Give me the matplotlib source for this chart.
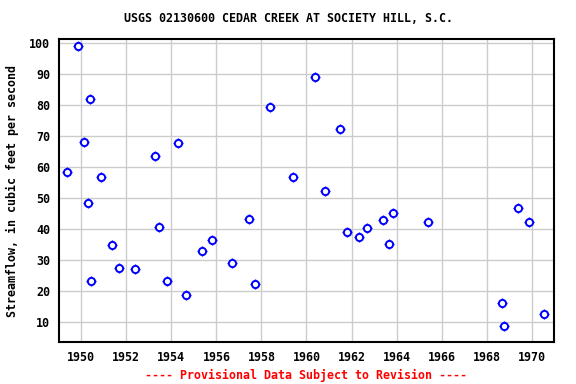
import matplotlib
matplotlib.use("Agg")
import matplotlib.pyplot as plt

# annual peak-ish streamflow values
years = [1949.38, 1949.87, 1950.13, 1950.40, 1950.31, 1950.44, 1950.89, 1951.35,
         1951.69, 1952.40, 1953.29, 1953.47, 1953.82, 1954.31, 1954.67, 1955.38,
         1955.82, 1956.71, 1957.47, 1957.71, 1958.40, 1959.39, 1960.36, 1960.84,
         1961.48, 1961.82, 1962.31, 1962.67, 1963.38, 1963.66, 1963.82, 1965.38,
         1968.68, 1968.76, 1969.38, 1969.87, 1970.53]
flow = [58.4, 99.0, 68.1, 81.9, 48.4, 23.2, 56.8, 34.8,
        27.4, 27.1, 63.5, 40.6, 23.2, 67.7, 18.7, 32.9,
        36.5, 29.0, 43.2, 22.3, 79.4, 56.8, 89.0, 52.3,
        72.3, 39.0, 37.4, 40.3, 42.9, 35.2, 45.2, 42.3,
        16.1, 8.8, 46.8, 42.3, 12.6]

x_ticks = list(range(1950, 1971, 2))
y_ticks = list(range(10, 101, 10))

title = "USGS 02130600 CEDAR CREEK AT SOCIETY HILL, S.C."
ylabel = "Streamflow, in cubic feet per second"
footer = "---- Provisional Data Subject to Revision ----"

font = {"family": "DejaVu Sans Mono", "weight": "bold", "size": 8.4}

fig = plt.figure(figsize=(5.76, 3.84), dpi=100)
ax = fig.add_axes([0.1019, 0.1086, 0.8604, 0.7891])

# crosshair ticks behind a white-filled circle
ax.plot(years, flow, linestyle="none", marker="+", markersize=7.2,
        markeredgewidth=1.0, color="blue", zorder=3)
ax.plot(years, flow, linestyle="none", marker="o", markersize=5.2,
        markeredgewidth=1.4, markeredgecolor="blue", markerfacecolor="white",
        zorder=4)

ax.set_xlim(1949.0, 1971.0)
ax.set_ylim(3.5, 101.3)
ax.set_xticks(x_ticks)
ax.set_yticks(y_ticks)
ax.grid(True, color="#cccccc", linewidth=1.0)
ax.set_axisbelow(True)
ax.tick_params(length=0, pad=6)
for lab in ax.get_xticklabels() + ax.get_yticklabels():
    lab.set_fontfamily(font["family"])
    lab.set_fontweight("bold")
    lab.set_fontsize(font["size"])
for sp in ax.spines.values():
    sp.set_linewidth(1.5)
    sp.set_color("black")

fig.text(0.5, 1 - 19 / 384, title, ha="center", va="center", **font)
fig.text(12 / 576, 0.5 * (0.1086 + 0.8977), ylabel, rotation=90,
         ha="center", va="center", **font)
fig.text(0.5 * (0.1019 + 0.9623), 1 - 375 / 384, footer, ha="center",
         va="center", color="red", **font)

fig.savefig("out.png", dpi=100)
